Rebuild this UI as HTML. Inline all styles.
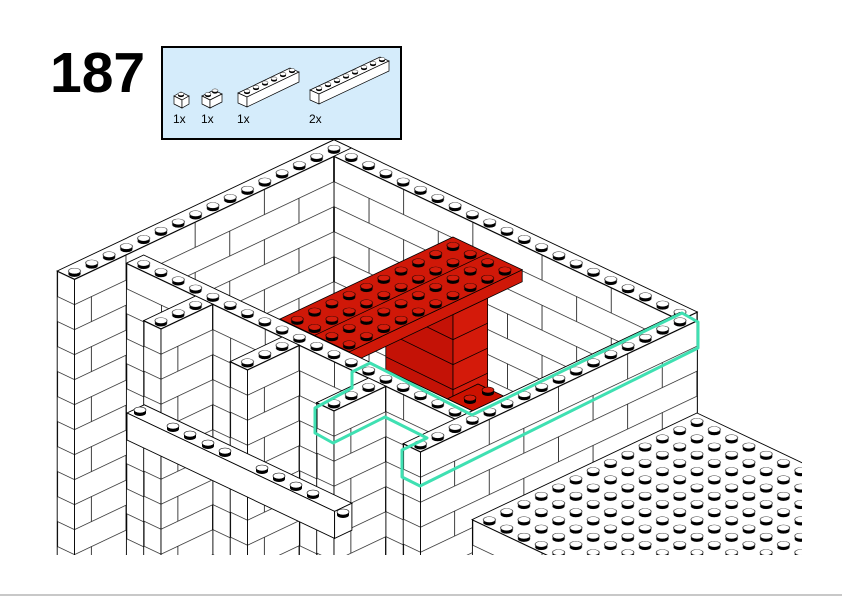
<!DOCTYPE html>
<html><head><meta charset="utf-8"><style>
html,body{margin:0;padding:0;background:#fff;overflow:hidden;width:842px;height:596px}
svg{display:block}
.t{fill:url(#st);stroke:#000;stroke-width:.9;vector-effect:non-scaling-stroke}
.f{fill:url(#bk);stroke:#000;stroke-width:.9;vector-effect:non-scaling-stroke}
.p{fill:#fff;stroke:#000;stroke-width:.9}
</style></head><body>
<svg width="842" height="596" viewBox="0 0 842 596" xmlns="http://www.w3.org/2000/svg">
<defs>
<pattern id="st" patternUnits="userSpaceOnUse" width="1" height="1">
<rect width="1" height="1" fill="#fff"/>
<circle cx=".68" cy=".68" r=".25" fill="#000"/>
<circle cx=".62" cy=".62" r=".25" fill="#000"/>
<circle cx=".56" cy=".56" r=".25" fill="#000"/>
<circle cx=".5" cy=".5" r=".25" fill="#fff" stroke="#000" stroke-width=".03"/>
</pattern>
<pattern id="rst" patternUnits="userSpaceOnUse" width="1" height="1">
<rect width="1" height="1" fill="#d01808"/>
<circle cx=".68" cy=".68" r=".25" fill="#000"/>
<circle cx=".62" cy=".62" r=".25" fill="#000"/>
<circle cx=".56" cy=".56" r=".25" fill="#000"/>
<circle cx=".5" cy=".5" r=".25" fill="#d61c0c" stroke="#000" stroke-width=".03"/>
</pattern>
<pattern id="bk" patternUnits="userSpaceOnUse" width="4" height="50">
<rect width="4" height="50" fill="#fff"/>
<rect y="0" width="4" height="0.8" fill="#222"/>
<rect y="25" width="4" height="0.8" fill="#222"/>
<rect x="0" y="0" width="0.05" height="25" fill="#222"/>
<rect x="2" y="25" width="0.05" height="25" fill="#222"/>
</pattern>
<g id="stud"><ellipse cx="0" cy="3" rx="6" ry="3" fill="#000"/><rect x="-6" y="0" width="12" height="3" fill="#000"/><ellipse cx="0" cy="0" rx="6" ry="3" fill="#fff" stroke="#000" stroke-width=".6"/></g>
<g id="rstud"><ellipse cx="0" cy="3" rx="6" ry="3" fill="#000"/><rect x="-6" y="0" width="12" height="3" fill="#000"/><ellipse cx="0" cy="0" rx="6" ry="3" fill="#d61c0c" stroke="#000" stroke-width=".6"/></g>
<g id="ms"><ellipse cx="0" cy="1.5" rx="3" ry="1.6" fill="#000"/><rect x="-3" y="0" width="6" height="1.5" fill="#000"/><ellipse cx="0" cy="0" rx="3" ry="1.6" fill="#fff" stroke="#000" stroke-width=".4"/></g>
<clipPath id="cl"><rect x="0" y="0" width="802" height="555"/></clipPath>
</defs>

<rect width="842" height="596" fill="#fff"/>

<text x="50" y="92" font-family="Liberation Sans, Arial, sans-serif" font-weight="bold" font-size="57" fill="#000">187</text>
<rect x="162" y="47" width="239" height="92" fill="#d5ecfb" stroke="#000" stroke-width="2"/>
<g stroke="#000" stroke-width=".7" fill="#fff">
<polygon points="174,96 181,92 189,96 182,100"/><polygon points="174,96 182,100 182,108 174,104"/><polygon points="182,100 189,96 189,104 182,108"/>
<polygon points="202,96 214,90 222,94 210,100"/><polygon points="202,96 210,100 210,108 202,104"/><polygon points="210,100 222,94 222,102 210,108"/>
<polygon points="238,93 290,68 299,72 247,97"/><polygon points="238,93 247,97 247,107 238,103"/><polygon points="247,97 299,72 299,82 247,107"/>
<polygon points="310,90 380,57 389,61 319,94"/><polygon points="310,90 319,94 319,104 310,100"/><polygon points="319,94 389,61 389,71 319,104"/>
</g>
<use href="#ms" x="181" y="94"/>
<use href="#ms" x="208" y="94"/><use href="#ms" x="215" y="90.5"/>
<use href="#ms" x="247" y="91"/><use href="#ms" x="256" y="87"/><use href="#ms" x="265" y="82.5"/><use href="#ms" x="274" y="78.5"/><use href="#ms" x="283" y="74"/><use href="#ms" x="292" y="70"/>
<use href="#ms" x="319" y="88"/><use href="#ms" x="328" y="84"/><use href="#ms" x="337" y="80"/><use href="#ms" x="346" y="75.5"/><use href="#ms" x="355" y="71.5"/><use href="#ms" x="364" y="67"/><use href="#ms" x="373" y="63"/><use href="#ms" x="382" y="59"/>
<g font-family="Liberation Sans, Arial, sans-serif" font-size="12" fill="#000">
<text x="173" y="123">1x</text><text x="201" y="123">1x</text><text x="237" y="123">1x</text><text x="309" y="123">2x</text>
</g>

<g clip-path="url(#cl)">
<g transform="matrix(17.3 8.2 0 1 334 139.8)"><rect class="f" transform="translate(0 16.4)" width="20" height="400"/></g>
<g transform="matrix(-17.3 8.2 0 1 334 139.8)"><rect class="f" transform="translate(-21 344.4)" width="1" height="400"/></g>
<g transform="matrix(17.3 8.2 -17.3 8.2 334 139.8)"><rect class="t" width="21" height="1"/></g>
<g transform="matrix(-17.3 8.2 0 1 334 139.8)"><rect class="f" transform="translate(0 16.4)" width="15" height="400"/></g>
<g transform="matrix(17.3 8.2 0 1 334 139.8)"><rect class="f" transform="translate(-16 262.4)" width="1" height="400"/></g>
<g transform="matrix(17.3 8.2 -17.3 8.2 334 139.8)"><rect class="t" width="1" height="16"/></g>

<g stroke="#000" stroke-width=".8">
<polygon points="385.8,281.8 453,314.6 453,434.6 385.8,401.8" fill="#c41206"/>
<polygon points="453,314.6 487.6,298.2 487.6,418.2 453,434.6" fill="#d41a0a"/>
<line x1="385.8" y1="306.8" x2="453" y2="339.6"/><line x1="385.8" y1="331.8" x2="453" y2="364.6"/><line x1="385.8" y1="356.8" x2="453" y2="389.6"/>
<line x1="453" y1="339.6" x2="487.6" y2="323.2"/><line x1="453" y1="364.6" x2="487.6" y2="348.2"/><line x1="453" y1="389.6" x2="487.6" y2="373.2"/>
<polygon points="445,400 478,384 512,400 479,416" fill="#cc1100"/>
</g>
<use href="#rstud" x="470" y="398"/><use href="#rstud" x="488" y="390"/>
<g stroke="#000" stroke-width=".8">
<polygon points="522.2,269.8 349.2,351.8 349.2,363.8 522.2,281.8" fill="#d01808"/>
<polygon points="280,319 349.2,351.8 349.2,363.8 280,331" fill="#c41206"/>
</g>
<g transform="matrix(17.3 8.2 -17.3 8.2 453 237)"><rect width="4" height="10" fill="url(#rst)" stroke="#000" stroke-width=".8" vector-effect="non-scaling-stroke"/><line x1="2" y1="0" x2="2" y2="10" stroke="#000" stroke-width=".7" vector-effect="non-scaling-stroke"/></g>

<g transform="matrix(17.3 8.2 0 1 334 139.8)"><rect class="f" transform="translate(-12 221.8)" width="19" height="400"/></g>
<g transform="matrix(17.3 8.2 -17.3 8.2 334 139.8)"><rect class="t" transform="translate(1.524 12.524)" width="19" height="1"/></g>

<g transform="matrix(17.3 8.2 0 1 334 139.8)"><rect class="f" transform="translate(-11 271)" width="1" height="400"/></g>
<g transform="matrix(-17.3 8.2 0 1 334 139.8)"><rect class="f" transform="translate(7 107)" width="3" height="400"/></g>
<g transform="matrix(17.3 8.2 -17.3 8.2 334 139.8)"><rect class="t" transform="translate(5.524 13.524)" width="1" height="3"/></g>
<g transform="matrix(17.3 8.2 0 1 334 139.8)"><rect class="f" transform="translate(-6 271)" width="1" height="400"/></g>
<g transform="matrix(-17.3 8.2 0 1 334 139.8)"><rect class="f" transform="translate(2 189)" width="3" height="400"/></g>
<g transform="matrix(17.3 8.2 -17.3 8.2 334 139.8)"><rect class="t" transform="translate(10.524 13.524)" width="1" height="3"/></g>
<g transform="matrix(17.3 8.2 0 1 334 139.8)"><rect class="f" transform="translate(-1 271)" width="1" height="400"/></g>
<g transform="matrix(-17.3 8.2 0 1 334 139.8)"><rect class="f" transform="translate(-3 271)" width="3" height="400"/></g>
<g transform="matrix(17.3 8.2 -17.3 8.2 334 139.8)"><rect class="t" transform="translate(15.524 13.524)" width="1" height="3"/></g>
<g transform="matrix(17.3 8.2 0 1 334 139.8)"><rect class="f" transform="translate(4 271)" width="1" height="400"/></g>
<g transform="matrix(-17.3 8.2 0 1 334 139.8)"><rect class="f" transform="translate(-21 353)" width="16" height="400"/></g>
<g transform="matrix(17.3 8.2 -17.3 8.2 334 139.8)"><rect class="t" transform="translate(20.524 0.524)" width="1" height="16"/></g>

<polygon class="p" points="127,413 144.3,404.8 351.9,503.2 334.6,511.4"/>
<polygon class="p" points="127,413 334.6,511.4 334.6,538.4 127,440"/>
<polygon class="p" points="334.6,511.4 351.9,503.2 351.9,530.2 334.6,538.4"/>
<use href="#stud" x="343" y="512"/>
<use href="#stud" x="140" y="410"/>
<use href="#stud" x="173" y="426"/><use href="#stud" x="190" y="434"/><use href="#stud" x="208" y="443"/><use href="#stud" x="225" y="451"/>
<use href="#stud" x="262" y="468"/><use href="#stud" x="279" y="476"/><use href="#stud" x="296" y="485"/><use href="#stud" x="313" y="493"/>

<g transform="matrix(17.3 8.2 0 1 334 139.8)"><rect class="f" transform="translate(8 314.2)" width="12" height="300"/></g>
<g transform="matrix(17.3 8.2 -17.3 8.2 697 413)"><rect class="t" width="12" height="13"/></g>

<polygon points="315,408 315,433 333,443 385,417 427,438 402,450 402,477 420,486 698,348 698,322 682,313 472,415 370,363 352,372 352,388" fill="none" stroke="#3fe0b2" stroke-width="3" stroke-linejoin="round"/>
</g>

<rect x="0" y="594" width="842" height="2" fill="#c8c8c8"/>
</svg>
</body></html>
